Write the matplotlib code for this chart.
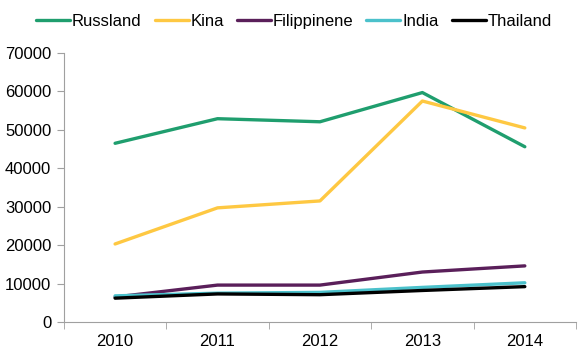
import numpy as np
import matplotlib.pyplot as plt

plt.rcParams['font.family'] = ['Liberation Sans', 'DejaVu Sans']

years = ['2010', '2011', '2012', '2013', '2014']
russland = [46500, 52900, 52100, 59700, 45600]
kina = [20300, 29700, 31500, 57500, 50500]
filippinene = [6500, 9600, 9600, 13000, 14600]
india = [6800, 7500, 7700, 9000, 10200]
thailand = [6200, 7300, 7100, 8200, 9200]

series = [('Russland', russland, '#1f9e6e'),
          ('Kina', kina, '#fec842'),
          ('Filippinene', filippinene, '#5a1f5a'),
          ('India', india, '#4bc1cb'),
          ('Thailand', thailand, '#000000')]

fig = plt.figure(figsize=(5.86, 3.58), dpi=100)
ax = fig.add_axes([0.109, 0.1006, 0.874, 0.7514])

x = np.arange(len(years))
for name, vals, col in series:
    ax.plot(x, vals, color=col, lw=2.4, label=name, solid_capstyle='round')

ax.set_xlim(-0.5, len(years) - 0.5)
ax.set_ylim(0, 70000)
ax.set_yticks(range(0, 70001, 10000))
ax.set_xticks(x)
ax.set_xticklabels(years)
ax.set_xticks(np.arange(-0.5, len(years), 1), minor=True)
ax.tick_params(axis='x', which='major', length=0, labelsize=12, pad=9)
ax.tick_params(axis='x', which='minor', length=5, color='#a0a0a0', direction='out')
ax.tick_params(axis='y', length=5, color='#a0a0a0', direction='out', labelsize=12, pad=4)

for s in ['top', 'right']:
    ax.spines[s].set_visible(False)
for s in ['left', 'bottom']:
    ax.spines[s].set_color('#a0a0a0')

leg = ax.legend(loc='lower center', bbox_to_anchor=(0.449, 1.065), ncol=5, frameon=False,
                fontsize=12, handlelength=2.05, handletextpad=0.1, columnspacing=0.78,
                borderaxespad=0)

fig.savefig('out.png', dpi=100)
